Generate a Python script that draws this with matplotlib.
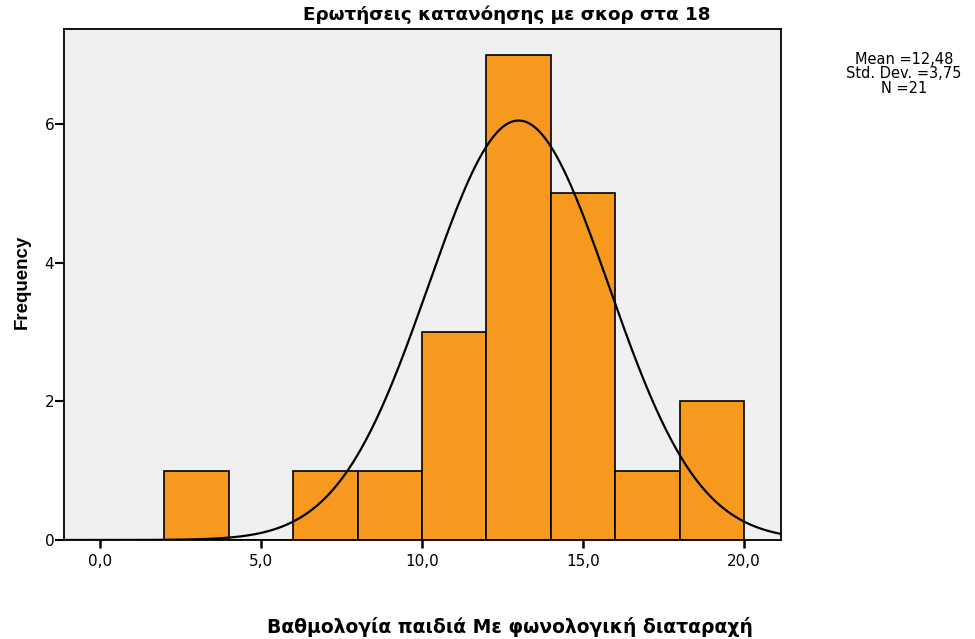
import numpy as np
import matplotlib
matplotlib.use("Agg")
import matplotlib.pyplot as plt

plt.rcParams['font.family'] = ['DejaVu Sans']

# Histogram data (bin edges and counts)
bin_edges = [2, 4, 6, 8, 10, 12, 14, 16, 18, 20]
counts = [1, 0, 1, 1, 3, 7, 5, 1, 2]

# Normal curve as drawn (peak location / height / spread)
curve_center = 13.0
curve_sigma = 2.8
curve_peak = 6.05

title = "Ερωτήσεις κατανόησης με σκορ στα 18"
xlabel = "Βαθμολογία παιδιά Με φωνολογική διαταραχή"
ylabel = "Frequency"
stats_text = "Mean =12,48\nStd. Dev. =3,75\nN =21"
xticks = [0, 5, 10, 15, 20]
xticklabels = ["0,0", "5,0", "10,0", "15,0", "20,0"]
yticks = [0, 2, 4, 6]

fig = plt.figure(figsize=(9.75, 6.39), dpi=100)
ax = fig.add_axes([64/975, 1-540/639, (781-64)/975, (540-29)/639])
ax.set_facecolor('#F0F0F0')

lefts = np.array(bin_edges[:-1])
widths = np.diff(bin_edges)
ax.bar(lefts, counts, width=widths, align='edge', color='#F7991F',
       edgecolor='black', linewidth=1.2, zorder=2)

xs = np.linspace(-1.12, 21.15, 400)
ys = curve_peak * np.exp(-0.5 * ((xs - curve_center) / curve_sigma) ** 2)
ax.plot(xs, ys, color='black', linewidth=1.6, zorder=3)

ax.set_xlim(-1.12, 21.15)
ax.set_ylim(0, 7.37)
ax.set_xticks(xticks)
ax.set_xticklabels(xticklabels, fontsize=11)
ax.set_yticks(yticks)
ax.set_yticklabels([str(v) for v in yticks], fontsize=11)
ax.tick_params(axis='x', direction='out', length=5.8, width=1.8, color='black', pad=4.3)
ax.tick_params(axis='y', direction='out', length=6.5, width=1.5, color='black', pad=0.5)
for s in ax.spines.values():
    s.set_linewidth(1.3)
    s.set_color('black')

fig.text(507/975, 1-15/639, title, ha='center', va='center',
         fontsize=13.2, fontweight='bold')
fig.text(510/975, 1-627/639, xlabel, ha='center', va='center',
         fontsize=13.5, fontweight='bold')
fig.text(22/975, 1-282/639, ylabel, ha='center', va='center',
         fontsize=13.5, fontweight='bold', rotation=90,
         family=['Liberation Sans', 'DejaVu Sans'])
fig.text(904/975, 1-74/639, stats_text, ha='center', va='center',
         fontsize=10.5, linespacing=0.93)

fig.savefig('out.png', dpi=100)
